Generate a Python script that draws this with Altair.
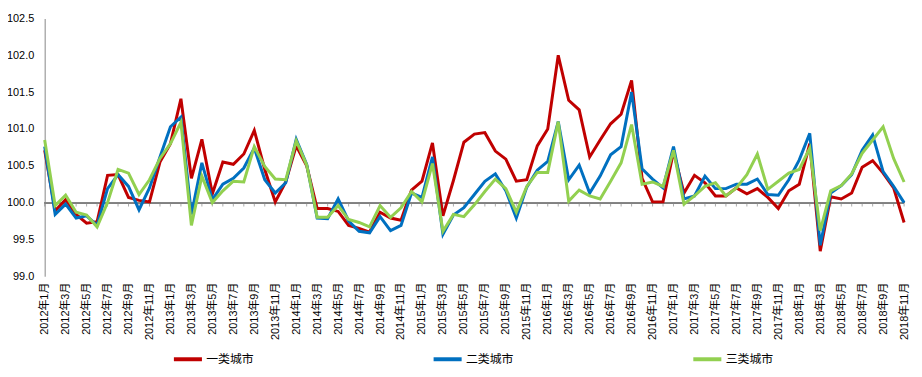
import altair as alt
import pandas as pd

years = [2012, 2013, 2014, 2015, 2016, 2017, 2018]
months = [f"{y}年{m}月" for y in years for m in range(1, 13)][:83]

series_names = ["一类城市", "二类城市", "三类城市"]
series_colors = ["#C00000", "#0070C0", "#92D050"]

tier1 = [
    100.71, 99.89, 100.04, 99.84, 99.72, 99.74, 100.37, 100.38, 100.07, 100.03, 100.01, 100.55,
    100.80, 101.41, 100.33, 100.86, 100.12, 100.55, 100.52, 100.66, 100.98, 100.45, 100.01, 100.28,
    100.77, 100.50, 99.92, 99.92, 99.88, 99.69, 99.65, 99.60, 99.87, 99.79, 99.76, 100.17,
    100.29, 100.81, 99.82, 100.30, 100.82, 100.93, 100.95, 100.70, 100.59, 100.29, 100.31, 100.77,
    101.00, 102.00, 101.39, 101.26, 100.62, 100.85, 101.07, 101.20, 101.66, 100.33, 100.01, 100.01,
    100.69, 100.13, 100.37, 100.27, 100.09, 100.09, 100.20, 100.12, 100.19, 100.07, 99.92, 100.16,
    100.25, 100.80, 99.34, 100.08, 100.05, 100.13, 100.48, 100.57, 100.40, 100.20, 99.73,
]
tier2 = [
    100.76, 99.84, 99.98, 99.79, 99.82, 99.69, 100.19, 100.38, 100.22, 99.90, 100.20, 100.62,
    101.03, 101.16, 99.84, 100.54, 100.04, 100.25, 100.33, 100.47, 100.74, 100.31, 100.13, 100.27,
    100.86, 100.52, 99.79, 99.78, 100.05, 99.75, 99.61, 99.59, 99.81, 99.62, 99.69, 100.13,
    100.07, 100.62, 99.57, 99.83, 99.93, 100.11, 100.29, 100.39, 100.16, 99.79, 100.21, 100.44,
    100.56, 101.10, 100.31, 100.51, 100.13, 100.36, 100.65, 100.76, 101.50, 100.46, 100.32, 100.20,
    100.76, 100.05, 100.09, 100.36, 100.19, 100.19, 100.25, 100.25, 100.32, 100.11, 100.10, 100.31,
    100.58, 100.94, 99.42, 100.13, 100.23, 100.38, 100.71, 100.92, 100.42, 100.22, 100.00,
]
tier3 = [
    100.85, 99.96, 100.10, 99.87, 99.83, 99.67, 100.00, 100.45, 100.40, 100.11, 100.31, 100.60,
    100.80, 101.09, 99.69, 100.36, 100.00, 100.16, 100.29, 100.28, 100.76, 100.49, 100.32, 100.31,
    100.84, 100.51, 99.80, 99.80, 99.96, 99.77, 99.73, 99.67, 99.96, 99.80, 99.93, 100.15,
    100.01, 100.53, 99.61, 99.84, 99.81, 99.97, 100.15, 100.32, 100.19, 99.87, 100.22, 100.41,
    100.41, 101.10, 100.02, 100.17, 100.09, 100.05, 100.29, 100.54, 101.06, 100.25, 100.28, 100.22,
    100.71, 99.98, 100.09, 100.22, 100.27, 100.09, 100.20, 100.38, 100.66, 100.18, 100.29, 100.40,
    100.45, 100.74, 99.62, 100.16, 100.23, 100.39, 100.67, 100.85, 101.03, 100.60, 100.28,
]

y_ticks = [99.0, 99.5, 100.0, 100.5, 101.0, 101.5, 102.0, 102.5]

rows = []
for name, vals in zip(series_names, [tier1, tier2, tier3]):
    for m, v in zip(months, vals):
        rows.append({"month": m, "value": v, "series": name})
df = pd.DataFrame(rows)
base_df = pd.DataFrame({"month": months})

FONT = "Liberation Sans, Noto Sans CJK SC, sans-serif"

x_axis = alt.Axis(
    title=None,
    values=months[::2],
    labelAngle=270,
    labelAlign="right",
    labelBaseline="middle",
    labelPadding=6,
    labelFontSize=11,
    labelColor="#000000",
    labelOverlap=False,
    domain=False,
    ticks=False,
    grid=False,
)
x_scale = alt.Scale(type="point", padding=0)

y_scale = alt.Scale(domain=[99.0, 102.5], nice=False, zero=False)
y_axis = alt.Axis(
    title=None,
    values=y_ticks,
    format=".1f",
    labelFontSize=11,
    labelColor="#000000",
    labelPadding=11,
    labelOverlap=False,
    ticks=False,
    domainColor="#868686",
    gridColor="#D9D9D9",
)

lines = alt.Chart(df).mark_line(strokeWidth=3).encode(
    x=alt.X("month:O", sort=months, scale=x_scale, axis=x_axis),
    y=alt.Y("value:Q", scale=y_scale, axis=y_axis),
    color=alt.Color(
        "series:N",
        scale=alt.Scale(domain=series_names, range=series_colors),
        legend=alt.Legend(
            title=None,
            orient="none",
            legendX=128,
            legendY=327,
            direction="horizontal",
            symbolType="stroke",
            symbolSize=800,
            symbolStrokeWidth=4,
            labelFontSize=12,
            labelColor="#000000",
            labelOffset=2,
            columnPadding=172,
        ),
    ),
    order=alt.Order("series:N"),
)

zero_rule = alt.Chart(base_df).mark_rule(color="#868686", strokeWidth=1).encode(
    y=alt.datum(100.0, scale=y_scale, axis=y_axis)
)

ticks = alt.Chart(base_df).mark_tick(
    orient="vertical", color="#868686", size=4, thickness=1, yOffset=2
).encode(
    x=alt.X("month:O", sort=months, scale=x_scale, axis=x_axis),
    y=alt.datum(100.0, scale=y_scale, axis=y_axis),
)

chart = (
    alt.layer(zero_rule, ticks, lines)
    .properties(
        width=867,
        height=260,
        autosize=alt.AutoSizeParams(type="none"),
        padding={"left": 37, "top": 9, "right": 10, "bottom": 95},
    )
    .configure(font=FONT)
    .configure_view(stroke=None)
)

chart.save("out.html", embed_options={"renderer": "svg", "actions": False})
